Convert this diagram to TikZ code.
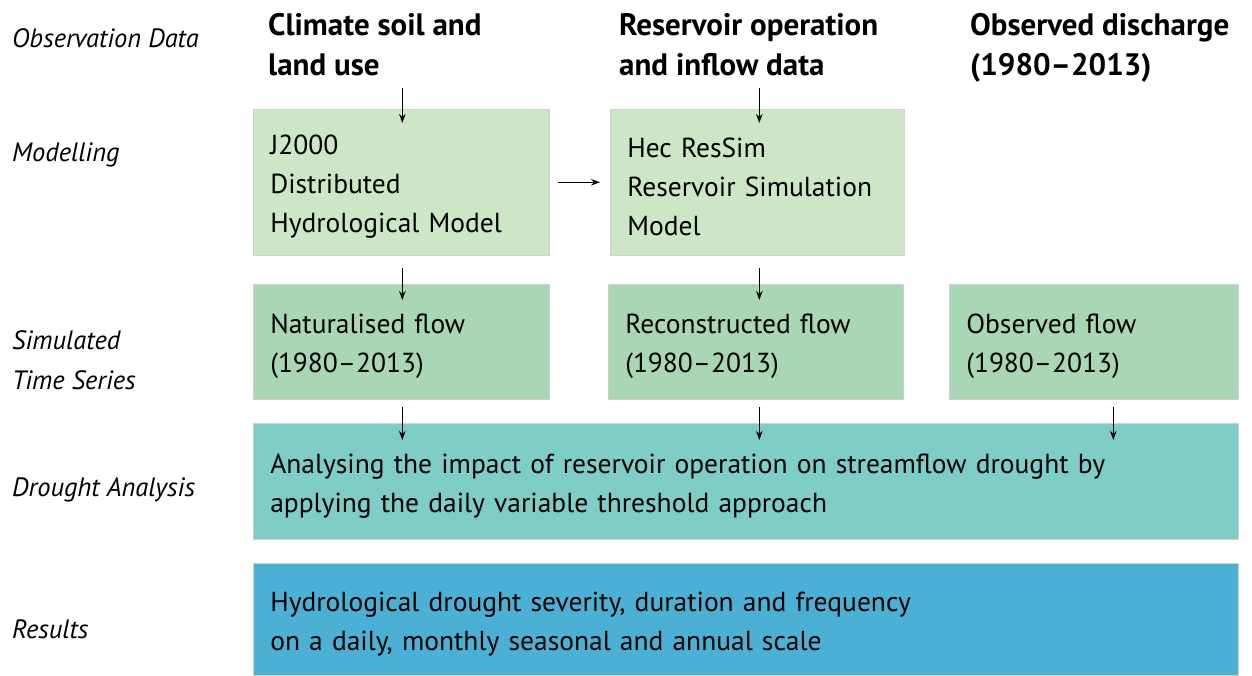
\documentclass[tikz,border=0pt]{standalone}
\usepackage{fontspec}
\setmainfont{PT Sans}
\usetikzlibrary{arrows.meta}
\definecolor{modgreen}{HTML}{CDE6C6}
\definecolor{simgreen}{HTML}{A9D6B5}
\definecolor{droughtteal}{HTML}{7ECDC6}
\definecolor{resultblue}{HTML}{4BB0D3}
\tikzset{
  box/.style={draw=black!18, line width=0.6pt, anchor=north west, align=left,
    inner xsep=17pt, inner ysep=0pt, font=\fontsize{27.5}{39}\selectfont,
    execute at begin node={\rule{0pt}{29pt}}},
  rowlabel/.style={anchor=west, inner sep=0pt, font=\fontsize{26.5}{40}\selectfont\itshape, align=left},
  header/.style={anchor=north west, inner sep=0pt, align=left, font=\fontsize{31}{40}\selectfont\bfseries},
  arr/.style={-{Stealth[length=9pt,width=6.5pt]}, line width=1.3pt}
}
\begin{document}
\begin{tikzpicture}[x=1pt,y=-1pt]
\useasboundingbox (0,0) rectangle (1252,676);

% row labels
\node[rowlabel] (lobs) at (12,38) {Observation Data};
\node[rowlabel] (lmod) at (12,155) {Modelling};
\node[rowlabel] (lsim) at (12,360) {Simulated\\Time Series};
\node[rowlabel] (ldro) at (12,490) {Drought Analysis};
\node[rowlabel] (lres) at (12,629) {Results};

% data sources
\node[header] (h1) at (268,13) {Climate soil and\\land use};
\node[header] (h2) at (619,13) {Reservoir operation\\and inflow data};
\node[header] (h3) at (970,13) {Observed discharge\\(1980--2013)};

% modelling
\node[box, fill=modgreen, minimum width=296pt, minimum height=146pt, text width=262pt] (j2k) at (253,109)
  {J2000\\Distributed\\Hydrological Model};
\node[box, fill=modgreen, minimum width=294pt, minimum height=146pt, text width=260pt] (hec) at (610,109)
  {Hec ResSim\\Reservoir Simulation\\Model};

% simulated series
\node[box, fill=simgreen, minimum width=296pt, minimum height=115pt, text width=262pt] (nat) at (253,284)
  {Naturalised flow\\(1980--2013)};
\node[box, fill=simgreen, minimum width=295pt, minimum height=115pt, text width=261pt] (rec) at (608,284)
  {Reconstructed flow\\(1980--2013)};
\node[box, fill=simgreen, minimum width=289pt, minimum height=115pt, text width=255pt] (obs) at (949,284)
  {Observed flow\\(1980--2013)};

% analysis and results
\node[box, fill=droughtteal, minimum width=985pt, minimum height=116pt, text width=951pt] (dro) at (253,423)
  {Analysing the impact of reservoir operation on streamflow drought by\\applying the daily variable threshold approach};
\node[box, fill=resultblue, minimum width=985pt, minimum height=112pt, text width=951pt] (res) at (253,563)
  {Hydrological drought severity, duration and frequency\\on a daily, monthly seasonal and annual scale};

% connectors
\draw[arr] ([xshift=1pt,yshift=21pt]j2k.north) -- ([xshift=1pt,yshift=-14pt]j2k.north);
\draw[arr] ([xshift=2pt,yshift=21pt]hec.north) -- ([xshift=2pt,yshift=-14pt]hec.north);
\draw[arr] ([xshift=8pt]j2k.east) -- ([xshift=-10pt]hec.west);
\draw[arr] ([xshift=1pt,yshift=16pt]nat.north) -- ([xshift=1pt,yshift=-16pt]nat.north);
\draw[arr] ([xshift=3.5pt,yshift=16pt]rec.north) -- ([xshift=3.5pt,yshift=-16pt]rec.north);
\draw[arr] ([xshift=-343.5pt,yshift=16pt]dro.north) -- ([xshift=-343.5pt,yshift=-17pt]dro.north);
\draw[arr] ([xshift=13.5pt,yshift=16pt]dro.north) -- ([xshift=13.5pt,yshift=-17pt]dro.north);
\draw[arr] ([xshift=367.5pt,yshift=16pt]dro.north) -- ([xshift=367.5pt,yshift=-17pt]dro.north);
\end{tikzpicture}
\end{document}
